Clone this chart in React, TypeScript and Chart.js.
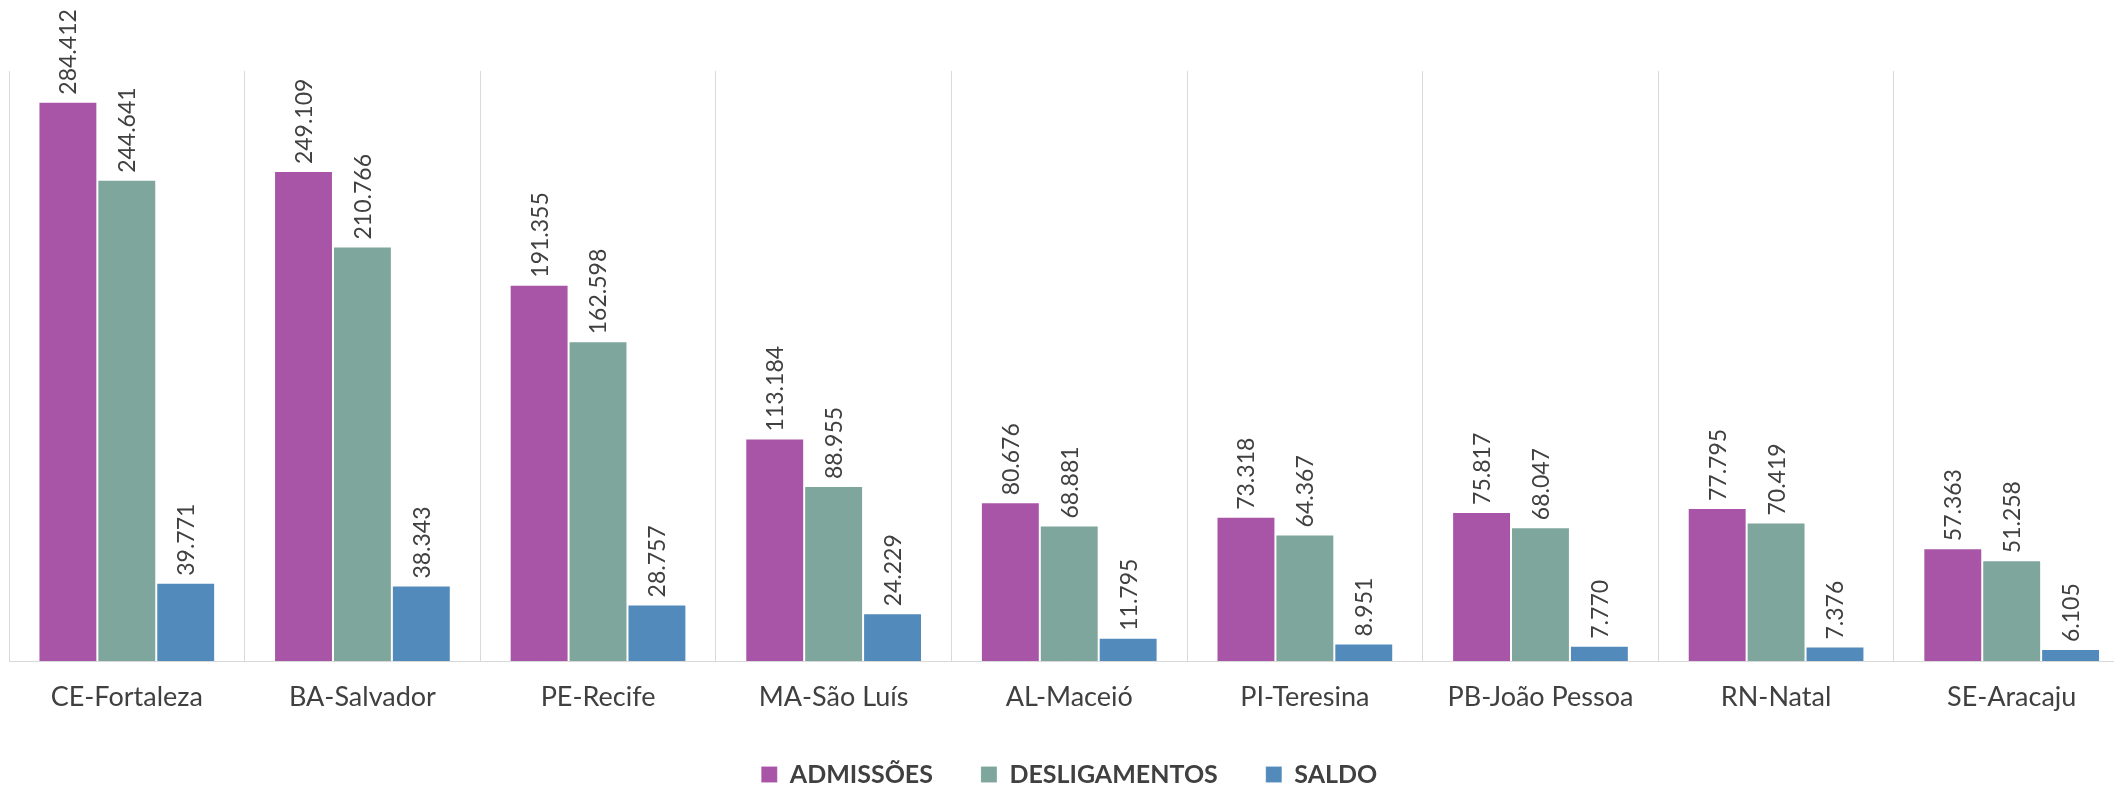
import React, { useEffect, useRef } from "react";
import { Chart, registerables } from "chart.js";

Chart.register(...registerables);

const categories = [
  "CE-Fortaleza",
  "BA-Salvador",
  "PE-Recife",
  "MA-São Luís",
  "AL-Maceió",
  "PI-Teresina",
  "PB-João Pessoa",
  "RN-Natal",
  "SE-Aracaju",
];

const admissoes = [284412, 249109, 191355, 113184, 80676, 73318, 75817, 77795, 57363];
const desligamentos = [244641, 210766, 162598, 88955, 68881, 64367, 68047, 70419, 51258];
const saldo = [39771, 38343, 28757, 24229, 11795, 8951, 7770, 7376, 6105];

const seriesNames = ["ADMISSÕES", "DESLIGAMENTOS", "SALDO"];
const seriesColors = ["#A855A8", "#7EA69C", "#528BBB"];

const fmt = (v: number) => String(v).replace(/\B(?=(\d{3})+(?!\d))/g, ".");

const FONT = "Lato, 'Noto Sans', sans-serif";

const valueLabels = {
  id: "valueLabels",
  afterDatasetsDraw(chart: any) {
    const ctx = chart.ctx;
    ctx.save();
    ctx.fillStyle = "#404040";
    ctx.font = `23px ${FONT}`;
    ctx.textAlign = "left";
    ctx.textBaseline = "middle";
    chart.data.datasets.forEach((ds: any, di: number) => {
      const meta = chart.getDatasetMeta(di);
      meta.data.forEach((el: any, i: number) => {
        const { x, y } = el.getProps(["x", "y"], true);
        ctx.save();
        ctx.translate(x + 1, y - 7);
        ctx.rotate(-Math.PI / 2);
        ctx.fillText(fmt(ds.data[i]), 0, 0);
        ctx.restore();
      });
    });
    ctx.restore();
  },
};

export default function App() {
  const ref = useRef<HTMLCanvasElement | null>(null);

  useEffect(() => {
    if (!ref.current) return;
    const data = [admissoes, desligamentos, saldo];
    const chart = new Chart(ref.current, {
      type: "bar",
      data: {
        labels: categories,
        datasets: data.map((d, i) => ({
          label: seriesNames[i],
          data: d,
          backgroundColor: seriesColors[i],
          borderColor: "rgba(255,255,255,0.15)",
          borderWidth: 1,
          categoryPercentage: 0.75,
          barPercentage: 1.0,
        })),
      },
      options: {
        responsive: true,
        maintainAspectRatio: false,
        animation: false,
        devicePixelRatio: 1,
        layout: { padding: { left: 9, right: 10.5, top: 71, bottom: 0 } },
        plugins: {
          tooltip: { enabled: false },
          legend: {
            display: true,
            position: "bottom",
            labels: {
              boxWidth: 16,
              boxHeight: 16,
              padding: 48,
              color: "#404040",
              font: { family: FONT, size: 25, weight: "bold" },
            },
          },
        },
        scales: {
          x: {
            grid: { display: true, color: "#d9d9d9", drawTicks: false, offset: true },
            border: { display: true, color: "#d9d9d9" },
            ticks: {
              color: "#404040",
              padding: 20,
              font: { family: FONT, size: 27 },
              maxRotation: 0,
              autoSkip: false,
            },
            afterFit: (scale: any) => {
              scale.height = 53;
            },
          },
          y: {
            display: false,
            min: 0,
            max: 300000,
            grid: { display: false },
          },
        },
      },
      plugins: [valueLabels],
    });
    return () => chart.destroy();
  }, []);

  return (
    <div
      style={{
        position: "fixed",
        left: 0,
        top: 0,
        width: 2114,
        height: 785,
        overflow: "hidden",
        background: "#ffffff",
      }}
    >
      <div style={{ position: "relative", width: 2140, height: 797 }}>
        <canvas ref={ref} />
      </div>
    </div>
  );
}
